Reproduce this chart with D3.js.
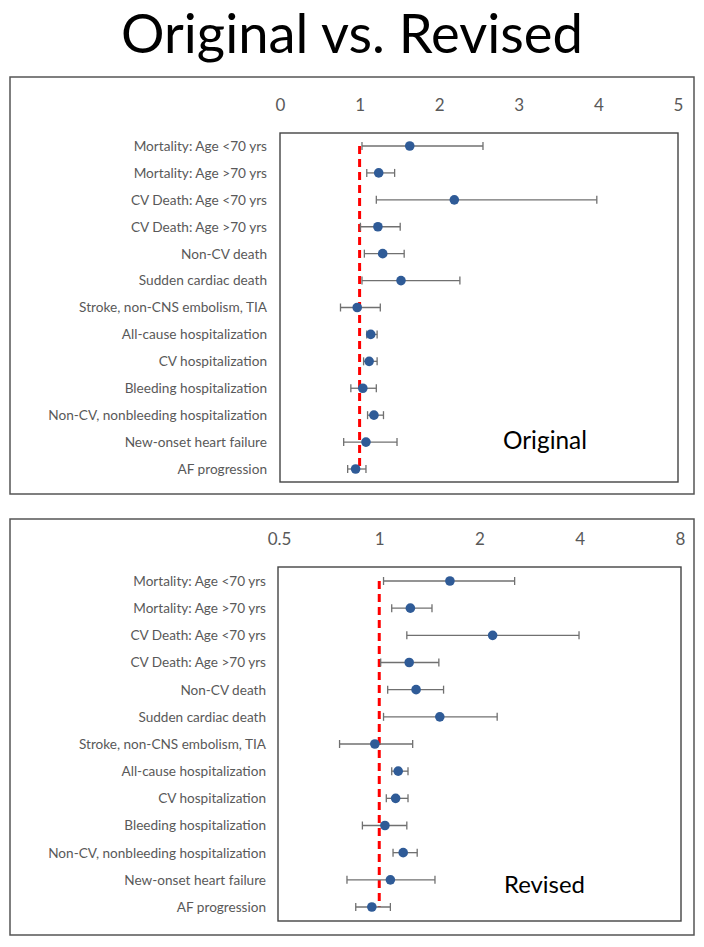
<!DOCTYPE html>
<html>
<head>
<meta charset="utf-8">
<script src="https://cdn.jsdelivr.net/npm/d3@7"></script>
<style>
  html, body { margin: 0; padding: 0; background: #fff; }
  svg { display: block; }
  text { font-family: Lato, "Open Sans", sans-serif; }
</style>
</head>
<body>
<svg id="chart" width="704" height="947"></svg>
<script>
// ---- Data ----
const categories = [
  "Mortality: Age <70 yrs",
  "Mortality: Age >70 yrs",
  "CV Death: Age <70 yrs",
  "CV Death: Age >70 yrs",
  "Non-CV death",
  "Sudden cardiac death",
  "Stroke, non-CNS embolism, TIA",
  "All-cause hospitalization",
  "CV hospitalization",
  "Bleeding hospitalization",
  "Non-CV, nonbleeding hospitalization",
  "New-onset heart failure",
  "AF progression"
];
const estimate = [1.63, 1.24, 2.19, 1.23, 1.29, 1.52, 0.97, 1.14, 1.12, 1.04, 1.18, 1.08, 0.95];
const lower    = [1.03, 1.09, 1.21, 1.01, 1.06, 1.03, 0.76, 1.09, 1.05, 0.89, 1.10, 0.80, 0.85];
const upper    = [2.55, 1.44, 3.98, 1.51, 1.56, 2.26, 1.26, 1.22, 1.22, 1.21, 1.30, 1.47, 1.08];
const referenceValue = 1;

const originalTicks = [0, 1, 2, 3, 4, 5];
const revisedTicks = [0.5, 1, 2, 4, 8];
const titleText = "Original vs. Revised";
const panelLabels = ["Original", "Revised"];

const rows = categories.map((c, i) => ({ cat: c, est: estimate[i], lo: lower[i], hi: upper[i] }));

const svg = d3.select("#chart");

// Title, fitted to reference width
const title = svg.append("text")
  .attr("x", 352).attr("y", 53)
  .attr("text-anchor", "middle")
  .attr("fill", "#000")
  .style("font-size", "60px")
  .text(titleText);
{
  const w = title.node().getComputedTextLength();
  title.style("font-size", (60 * 462 / w) + "px");
}

function drawPanel(cfg) {
  const g = svg.append("g");
  // outer frame
  g.append("rect")
    .attr("x", cfg.frame[0]).attr("y", cfg.frame[1])
    .attr("width", cfg.frame[2] - cfg.frame[0]).attr("height", cfg.frame[3] - cfg.frame[1])
    .attr("fill", "none").attr("stroke", "#555").attr("stroke-width", 1.5);

  // plot box
  g.append("rect")
    .attr("x", cfg.box[0]).attr("y", cfg.box[1])
    .attr("width", cfg.box[2] - cfg.box[0]).attr("height", cfg.box[3] - cfg.box[1])
    .attr("fill", "none").attr("stroke", "#444").attr("stroke-width", 1.4);

  const x = cfg.scale;
  const y = d3.scalePoint().domain(categories).range([cfg.rowTop, cfg.rowBottom]);

  // x axis (top)
  const xAxis = d3.axisTop(x).tickValues(cfg.ticks).tickSize(0).tickPadding(0)
    .tickFormat(d => String(d));
  const ax = g.append("g").attr("transform", `translate(0,${cfg.tickBaseline})`).call(xAxis);
  ax.select(".domain").remove();
  ax.selectAll("text").attr("fill", "#595959").style("font-size", "17px")
    .style("font-family", "Lato, 'Open Sans', sans-serif").attr("dy", "0");

  // y axis labels
  const yAxis = d3.axisLeft(y).tickSize(0).tickPadding(cfg.box[0] - cfg.labelRight);
  const ay = g.append("g").attr("transform", `translate(${cfg.box[0]},0)`).call(yAxis);
  ay.select(".domain").remove();
  const labels = ay.selectAll("text").attr("fill", "#595959")
    .style("font-family", "Lato, 'Open Sans', sans-serif").style("font-size", "14px");
  // fit the longest label to the reference width
  let maxW = 0;
  labels.each(function () { maxW = Math.max(maxW, this.getComputedTextLength()); });
  labels.style("font-size", (14 * cfg.longestLabelWidth / maxW) + "px");

  // reference line
  g.append("line")
    .attr("x1", x(referenceValue)).attr("x2", x(referenceValue))
    .attr("y1", y(categories[0])).attr("y2", y(categories[categories.length - 1]))
    .attr("stroke", "#ff0000").attr("stroke-width", 3)
    .attr("stroke-dasharray", "8,5");

  // error bars
  const eb = g.append("g").selectAll("g").data(rows).join("g");
  eb.append("line")
    .attr("x1", d => x(d.lo)).attr("x2", d => x(d.hi))
    .attr("y1", d => y(d.cat)).attr("y2", d => y(d.cat))
    .attr("stroke", "#707070").attr("stroke-width", 1.3);
  eb.append("line")
    .attr("x1", d => x(d.lo)).attr("x2", d => x(d.lo))
    .attr("y1", d => y(d.cat) - 4).attr("y2", d => y(d.cat) + 4)
    .attr("stroke", "#707070").attr("stroke-width", 1.3);
  eb.append("line")
    .attr("x1", d => x(d.hi)).attr("x2", d => x(d.hi))
    .attr("y1", d => y(d.cat) - 4).attr("y2", d => y(d.cat) + 4)
    .attr("stroke", "#707070").attr("stroke-width", 1.3);

  // points
  g.append("g").selectAll("circle").data(rows).join("circle")
    .attr("cx", d => x(d.est)).attr("cy", d => y(d.cat))
    .attr("r", 4.8).attr("fill", "#2f5b97");

  // panel label
  const pl = g.append("text")
    .attr("x", cfg.panelLabel.x).attr("y", cfg.panelLabel.y)
    .attr("fill", "#000").style("font-size", "22px")
    .text(cfg.panelLabel.text);
  const w = pl.node().getComputedTextLength();
  pl.style("font-size", (22 * cfg.panelLabel.width / w) + "px");
}

drawPanel({
  frame: [10, 77, 694, 494],
  box: [280, 133, 678, 482],
  scale: d3.scaleLinear().domain([0, 5]).range([280, 678]),
  ticks: originalTicks,
  tickBaseline: 111,
  rowTop: 146,
  rowBottom: 469,
  labelRight: 267,
  longestLabelWidth: 219,
  panelLabel: { text: panelLabels[0], x: 503, y: 449, width: 84 }
});

drawPanel({
  frame: [10, 519, 694, 935],
  box: [278, 567, 681, 921],
  scale: d3.scaleLog().base(2).domain([0.5, 8]).range([279, 680]),
  ticks: revisedTicks,
  tickBaseline: 545,
  rowTop: 581,
  rowBottom: 907,
  labelRight: 266,
  longestLabelWidth: 218,
  panelLabel: { text: panelLabels[1], x: 504, y: 893, width: 81 }
});
</script>
</body>
</html>
